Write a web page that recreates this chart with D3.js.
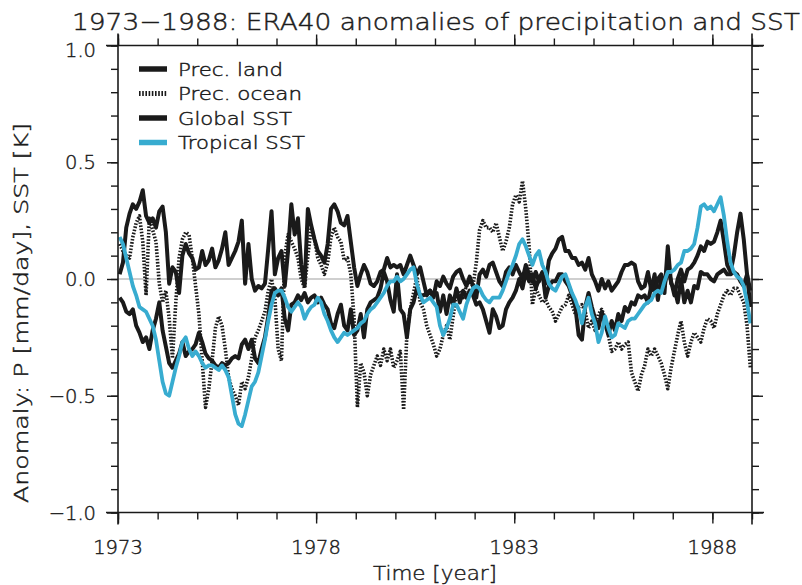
<!DOCTYPE html>
<html>
<head>
<meta charset="utf-8">
<script src="https://cdn.jsdelivr.net/npm/d3@7"></script>
<style>
  body { margin: 0; background: #fff; }
  svg { display: block; }
  text { font-family: "DejaVu Sans", sans-serif; font-weight: 300; fill: #1c1c1c; stroke: #1c1c1c; stroke-width: 0.45; }
</style>
</head>
<body>
<svg id="chart" width="802" height="585"></svg>
<script>
// Monthly anomalies, January 1973 to December 1988 (one value per month).
const startYear = 1973;
const endYear = 1989;
const xTickYears = [1973, 1978, 1983, 1988];
const yTickValues = [-1.0, -0.5, 0.0, 0.5, 1.0];
const seriesNames = ["Prec. land", "Prec. ocean", "Global SST", "Tropical SST"];

const precLand = [
   0.02, 0.07, 0.22, 0.28, 0.32, 0.30, 0.33, 0.38, 0.27, 0.24,
   0.26, 0.22, 0.29, 0.31, 0.20,-0.02, 0.05, 0.03,-0.06, 0.10,
   0.15, 0.11, 0.09, 0.04, 0.05, 0.12, 0.06, 0.08, 0.13, 0.05,
   0.08, 0.13, 0.20, 0.06, 0.09, 0.12, 0.16, 0.25,-0.02, 0.15,
   0.00,-0.05,-0.03,-0.04,-0.02, 0.13, 0.29, 0.02, 0.09, 0.12,
  -0.03, 0.12, 0.32, 0.19, 0.26, 0.06,-0.03, 0.30, 0.23, 0.17,
   0.12, 0.10, 0.07, 0.15, 0.30, 0.32, 0.29, 0.24, 0.23, 0.27,
   0.16, 0.05,-0.03, 0.02, 0.06, 0.03,-0.02,-0.03,-0.01, 0.03,
   0.04, 0.09, 0.05, 0.06, 0.05, 0.06, 0.02, 0.06, 0.10, 0.06,
   0.02, 0.05,-0.01,-0.07,-0.05,-0.08,-0.01,-0.03, 0.01,-0.02,
  -0.04, 0.01, 0.03, 0.04, 0.00,-0.03, 0.01,-0.03,-0.08, 0.02,
   0.04, 0.01, 0.06, 0.07, 0.03,-0.01,-0.03, 0.03, 0.05, 0.02,
   0.06, 0.03, 0.00, 0.06, 0.02,-0.01, 0.03,-0.01, 0.02,-0.02,
   0.08, 0.11, 0.13, 0.17, 0.18, 0.12, 0.12, 0.09, 0.09, 0.06,
   0.07, 0.04, 0.09, 0.02,-0.01,-0.05, 0.00,-0.04,-0.01,-0.05,
  -0.03,-0.01, 0.03, 0.06, 0.06, 0.07, 0.06,-0.01,-0.04,-0.03,
   0.03,-0.05, 0.02,-0.09, 0.01,-0.06, 0.14,-0.02,-0.04,-0.10,
   0.00,-0.10,-0.05,-0.10,-0.03,-0.04, 0.03, 0.02, 0.02, 0.00,
  -0.01, 0.02, 0.03, 0.04, 0.02, 0.02, 0.03, 0.02,-0.01,-0.03,
   0.02,-0.12
];

const precOcean = [
   0.15, 0.12, 0.10, 0.09, 0.18, 0.24, 0.27, 0.16,-0.07, 0.26,
   0.21, 0.16,-0.02,-0.10,-0.05,-0.17,-0.34,-0.10, 0.09, 0.17,
   0.20, 0.19, 0.09,-0.03,-0.15,-0.35,-0.55,-0.47,-0.35,-0.21,
  -0.16,-0.20,-0.30,-0.42,-0.47,-0.50,-0.54,-0.44,-0.47,-0.42,
  -0.34,-0.25,-0.22,-0.18,-0.14,-0.05, 0.00,-0.08,-0.30,-0.35,
   0.10, 0.19, 0.16, 0.13, 0.09, 0.00,-0.04, 0.10, 0.22, 0.17,
   0.09, 0.06, 0.02, 0.07, 0.18, 0.22, 0.18, 0.16, 0.08, 0.09,
   0.02,-0.17,-0.55,-0.36,-0.40,-0.50,-0.41,-0.37,-0.33,-0.37,
  -0.30,-0.35,-0.30,-0.38,-0.35,-0.31,-0.56,-0.23,-0.13,-0.06,
   0.01,-0.10,-0.13,-0.20,-0.24,-0.28,-0.33,-0.30,-0.24,-0.20,
  -0.26,-0.16,-0.06,-0.05,-0.08,-0.03,-0.01,-0.03, 0.07, 0.21,
   0.25, 0.22, 0.22, 0.20, 0.24, 0.18, 0.12, 0.16, 0.22, 0.32,
   0.36, 0.33, 0.42, 0.30, 0.14,-0.11,-0.04,-0.07,-0.10,-0.09,
  -0.12,-0.14,-0.18,-0.15,-0.12,-0.11,-0.07,-0.11,-0.15,-0.12,
  -0.11,-0.14,-0.21,-0.18,-0.22,-0.15,-0.13,-0.17,-0.24,-0.31,
  -0.30,-0.27,-0.30,-0.28,-0.27,-0.40,-0.44,-0.48,-0.41,-0.37,
  -0.30,-0.33,-0.30,-0.33,-0.36,-0.41,-0.47,-0.38,-0.31,-0.24,
  -0.18,-0.27,-0.33,-0.27,-0.23,-0.25,-0.27,-0.21,-0.17,-0.18,
  -0.21,-0.15,-0.11,-0.07,-0.05,-0.07,-0.04,-0.04,-0.07,-0.10,
  -0.20,-0.38
];

const globalSST = [
  -0.08,-0.10,-0.14,-0.15,-0.13,-0.20,-0.23,-0.27,-0.25,-0.30,
  -0.22,-0.17,-0.10,-0.22,-0.29,-0.36,-0.38,-0.35,-0.32,-0.27,
  -0.33,-0.31,-0.30,-0.28,-0.23,-0.27,-0.32,-0.34,-0.35,-0.37,
  -0.38,-0.36,-0.37,-0.36,-0.34,-0.33,-0.34,-0.28,-0.26,-0.30,
  -0.26,-0.34,-0.36,-0.30,-0.25,-0.16,-0.05,-0.04,-0.07,-0.04,
  -0.17,-0.22,-0.11,-0.10,-0.07,-0.09,-0.06,-0.10,-0.08,-0.07,
  -0.10,-0.08,-0.11,-0.13,-0.19,-0.21,-0.15,-0.11,-0.20,-0.22,
  -0.13,-0.24,-0.22,-0.15,-0.25,-0.13,-0.10,-0.09,-0.08,-0.04,
   0.03,-0.01,-0.09,-0.14, 0.02,-0.13,-0.15,-0.25,-0.13,-0.10,
  -0.04,-0.07,-0.07,-0.06,-0.05,-0.07,-0.06,-0.14,-0.07,-0.15,
  -0.07,-0.11,-0.04,-0.10,-0.05,-0.08,-0.05,-0.07,-0.11,-0.10,
  -0.13,-0.18,-0.23,-0.13,-0.16,-0.21,-0.20,-0.13,-0.10,-0.08,
  -0.05, 0.00,-0.04, 0.03,-0.01, 0.02,-0.04, 0.00, 0.03,-0.08,
  -0.03,-0.01,-0.01, 0.02, 0.02,-0.01,-0.03,-0.07,-0.12,-0.24,
  -0.26,-0.12,-0.06,-0.12,-0.17,-0.21,-0.14,-0.19,-0.24,-0.18,
  -0.22,-0.15,-0.18,-0.12,-0.14,-0.10,-0.11,-0.07,-0.08,-0.07,
  -0.10,-0.03,-0.05, 0.00, 0.02,-0.03, 0.05,-0.01,-0.07, 0.00,
   0.04,-0.01, 0.04, 0.05, 0.07, 0.10, 0.14, 0.12, 0.16, 0.15,
   0.16, 0.20, 0.25, 0.16, 0.06, 0.03, 0.10, 0.20, 0.28, 0.17,
   0.02,-0.05
];

const tropicalSST = [
   0.18, 0.15, 0.09, 0.03,-0.03,-0.07,-0.12,-0.13,-0.14,-0.17,
  -0.20,-0.26,-0.35,-0.44,-0.49,-0.50,-0.44,-0.38,-0.33,-0.27,
  -0.25,-0.30,-0.33,-0.31,-0.33,-0.36,-0.38,-0.37,-0.37,-0.38,
  -0.39,-0.37,-0.39,-0.42,-0.50,-0.58,-0.62,-0.63,-0.58,-0.52,
  -0.46,-0.44,-0.40,-0.33,-0.26,-0.18,-0.11,-0.06,-0.05,-0.05,
  -0.08,-0.12,-0.14,-0.12,-0.10,-0.12,-0.17,-0.14,-0.12,-0.11,
  -0.08,-0.10,-0.15,-0.18,-0.22,-0.25,-0.27,-0.25,-0.23,-0.24,
  -0.23,-0.22,-0.21,-0.19,-0.18,-0.15,-0.13,-0.12,-0.10,-0.08,
  -0.06,-0.03,-0.01,-0.01, 0.01,-0.01, 0.00, 0.02, 0.04, 0.05,
  -0.02,-0.07,-0.10,-0.09,-0.08,-0.10,-0.12,-0.20,-0.24,-0.21,
  -0.17,-0.11,-0.11,-0.14,-0.17,-0.11,-0.07,-0.04,-0.03,-0.04,
  -0.07,-0.09,-0.10,-0.08,-0.08,-0.08,-0.05,-0.01, 0.03, 0.06,
   0.10, 0.15, 0.17, 0.14, 0.10, 0.06, 0.10, 0.12, 0.06, 0.03,
  -0.02,-0.04,-0.05,-0.02, 0.01, 0.02,-0.02,-0.06,-0.09,-0.13,
  -0.19,-0.12,-0.08,-0.15,-0.19,-0.27,-0.23,-0.16,-0.21,-0.25,
  -0.24,-0.19,-0.20,-0.21,-0.18,-0.17,-0.17,-0.15,-0.13,-0.11,
  -0.10,-0.09,-0.06,-0.05,-0.06,-0.01, 0.03, 0.03, 0.04, 0.06,
   0.07, 0.12, 0.12, 0.13, 0.15, 0.22, 0.31, 0.32, 0.30, 0.31,
   0.29, 0.32, 0.35, 0.27, 0.16, 0.07, 0.03, 0.01, 0.00,-0.03,
  -0.10,-0.19
];

// ---- layout ----
const plot = { left: 118, right: 752, top: 45.5, bottom: 512.5 };
const ink = "#1a1a1a";
const blue = "#38acd0";

const svg = d3.select("#chart");

const x = d3.scaleLinear().domain([startYear, endYear]).range([plot.left, plot.right]);
const y = d3.scaleLinear().domain([-1, 1]).range([plot.bottom, plot.top]);

// month index -> decimal year at mid-month
const monthTime = i => startYear + (i + 0.5) / 12;

// ---- zero reference line ----
svg.append("line")
  .attr("x1", x(startYear)).attr("x2", x(endYear))
  .attr("y1", y(0)).attr("y2", y(0))
  .attr("stroke", "#a0a0a0").attr("stroke-width", 1.2);

// ---- series ----
const lineGen = d3.line()
  .x((d, i) => x(monthTime(i)))
  .y(d => y(d));

const seriesStyles = [
  { data: precLand,    stroke: ink,  width: 4,   dash: null },
  { data: precOcean,   stroke: ink,  width: 3.6, dash: "1.6,1.6" },
  { data: globalSST,   stroke: ink,  width: 4,   dash: null },
  { data: tropicalSST, stroke: blue, width: 3.8, dash: null }
];

const plotArea = svg.append("g");
seriesStyles.forEach(s => {
  plotArea.append("path")
    .datum(s.data)
    .attr("d", lineGen)
    .attr("fill", "none")
    .attr("stroke", s.stroke)
    .attr("stroke-width", s.width)
    .attr("stroke-linejoin", "round")
    .attr("stroke-dasharray", s.dash);
});

// ---- axes (ticks outward on all four sides) ----
const yearTicks = d3.range(startYear, endYear + 1);
const tenthTicks = d3.range(-10, 11).map(k => k / 10);
const axisStyle = g => {
  g.select(".domain").remove();
  g.selectAll(".tick line").attr("stroke", ink).attr("stroke-width", 1.4);
  g.selectAll(".tick text").remove();
};
const majorLen = 11, minorLen = 7;

function addAxis(axisFn, scale, transform, minorVals, majorVals) {
  svg.append("g").attr("transform", transform)
    .call(axisFn(scale).tickValues(minorVals).tickSize(minorLen).tickFormat(""))
    .call(axisStyle);
  svg.append("g").attr("transform", transform)
    .call(axisFn(scale).tickValues(majorVals).tickSize(majorLen).tickFormat(""))
    .call(axisStyle);
}
addAxis(d3.axisBottom, x, `translate(0,${plot.bottom})`, yearTicks, xTickYears);
addAxis(d3.axisTop, x, `translate(0,${plot.top})`, yearTicks, xTickYears);
addAxis(d3.axisLeft, y, `translate(${plot.left},0)`, tenthTicks, yTickValues);
addAxis(d3.axisRight, y, `translate(${plot.right},0)`, tenthTicks, yTickValues);

// frame lines, extended past the corners
const ext = 12;
const frame = svg.append("g").attr("stroke", ink).attr("stroke-width", 1.6);
frame.append("line").attr("x1", plot.left - ext).attr("x2", plot.right + ext)
  .attr("y1", plot.bottom).attr("y2", plot.bottom);
frame.append("line").attr("x1", plot.left - ext).attr("x2", plot.right + ext)
  .attr("y1", plot.top).attr("y2", plot.top);
frame.append("line").attr("x1", plot.left).attr("x2", plot.left)
  .attr("y1", plot.top - ext).attr("y2", plot.bottom + ext);
frame.append("line").attr("x1", plot.right).attr("x2", plot.right)
  .attr("y1", plot.top - ext).attr("y2", plot.bottom + ext);

// ---- tick labels ----
const fmtY = d => (d < 0 ? "\u2212" : "") + Math.abs(d).toFixed(1);
svg.append("g").selectAll("text").data(yTickValues).join("text")
  .attr("x", 96)
  .attr("y", d => y(d) + (d === 1 ? 4 : 0))
  .attr("dy", "0.36em")
  .attr("text-anchor", "end")
  .attr("font-size", 19.5)
  .text(fmtY);

svg.append("g").selectAll("text").data(xTickYears).join("text")
  .attr("x", d => x(d))
  .attr("y", 554)
  .attr("text-anchor", "middle")
  .attr("font-size", 19.5)
  .text(d => d);

// ---- axis titles and main title ----
svg.append("text")
  .attr("x", 435).attr("y", 580)
  .attr("text-anchor", "middle")
  .attr("font-size", 20)
  .attr("textLength", 124).attr("lengthAdjust", "spacingAndGlyphs")
  .text("Time [year]");

svg.append("text")
  .attr("transform", "translate(28,313) rotate(-90)")
  .attr("text-anchor", "middle")
  .attr("font-size", 20)
  .attr("textLength", 380).attr("lengthAdjust", "spacingAndGlyphs")
  .text("Anomaly: P [mm/day], SST [K]");

svg.append("text")
  .attr("x", 72).attr("y", 30)
  .attr("font-size", 23)
  .attr("textLength", 728).attr("lengthAdjust", "spacingAndGlyphs")
  .text("1973\u22121988: ERA40 anomalies of precipitation and SST");

// ---- legend ----
const legendRows = [
  { name: seriesNames[0], style: seriesStyles[0], w: 105 },
  { name: seriesNames[1], style: seriesStyles[1], w: 124 },
  { name: seriesNames[2], style: seriesStyles[2], w: 114 },
  { name: seriesNames[3], style: seriesStyles[3], w: 127 }
];
const legend = svg.append("g");
legendRows.forEach((r, i) => {
  const cy = 69 + i * 24.5;
  legend.append("line")
    .attr("x1", 139).attr("x2", 167)
    .attr("y1", cy).attr("y2", cy)
    .attr("stroke", r.style.stroke)
    .attr("stroke-width", r.style.dash ? 5 : 5.5)
    .attr("stroke-dasharray", r.style.dash);
  legend.append("text")
    .attr("x", 178).attr("y", cy + 6.5)
    .attr("font-size", 17)
    .attr("textLength", r.w).attr("lengthAdjust", "spacingAndGlyphs")
    .text(r.name);
});
</script>
</body>
</html>
